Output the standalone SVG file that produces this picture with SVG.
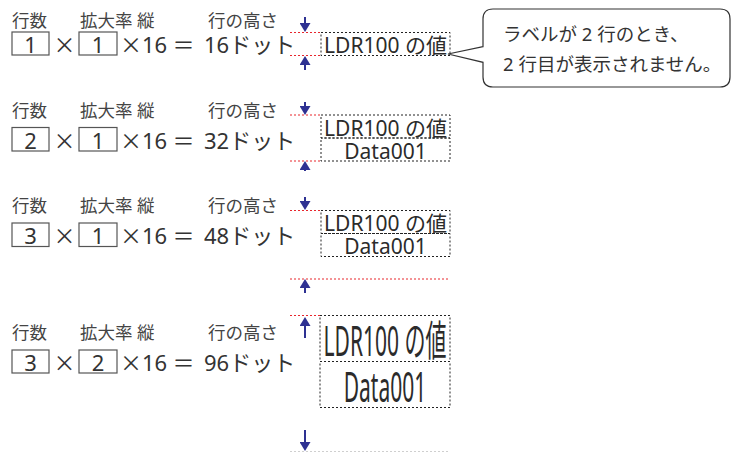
<svg xmlns="http://www.w3.org/2000/svg" width="732" height="452" viewBox="0 0 732 452">
<defs>
<style>
.lbl{font-family:"Noto Sans","Noto Sans CJK JP",sans-serif;font-size:17.5px;fill:#444}
.eq{font-family:"Noto Sans","Noto Sans CJK JP",sans-serif;font-size:22px;fill:#333}
.num{font-family:"Noto Sans","Noto Sans CJK JP",sans-serif;font-size:22px;fill:#333;text-anchor:middle}
.x{font-family:"Noto Sans CJK JP",sans-serif;font-size:22px;fill:#333}
.val{font-family:"Noto Sans","Noto Sans CJK JP",sans-serif;font-size:21px;fill:#2b2b2b;text-anchor:middle}
.nbox{fill:none;stroke:#555;stroke-width:1.2}
.tbox{fill:none;stroke:#222;stroke-width:1;stroke-dasharray:2 2}
.red{fill:none;stroke:#e8262d;stroke-width:1;stroke-dasharray:2 2}
.grey{fill:none;stroke:#cfcfcf;stroke-width:1;stroke-dasharray:2 2}
.arr{stroke:#2e3192;stroke-width:2;fill:none;marker-end:url(#ah)}
.co{font-family:"Noto Sans","Noto Sans CJK JP",sans-serif;font-size:18.5px;fill:#333}
</style>
<marker id="ah" viewBox="0 0 9 11" markerWidth="9" markerHeight="11" refX="4" refY="5.5" orient="auto" markerUnits="userSpaceOnUse">
<path d="M0,0 L9,5.5 L0,11 z" fill="#2e3192"/>
</marker>
</defs>

<g id="sec1">
<text class="lbl" x="12" y="27">行数</text>
<text class="lbl" x="80" y="27">拡大率 縦</text>
<text class="lbl" x="208" y="27">行の高さ</text>
<rect class="nbox" x="12" y="32" width="37" height="23"/>
<text class="num" x="30.5" y="52.5">1</text>
<text class="x" x="64.5" y="52.5" text-anchor="middle">×</text>
<rect class="nbox" x="79" y="32" width="38" height="23"/>
<text class="num" x="98" y="52.5">1</text>
<text class="eq" x="120" y="52.5"><tspan class="x">×</tspan>16</text>
<text class="num" x="183.5" y="52.5">＝</text>
<text class="eq" x="204" y="52.5">16ドット</text>
<line class="red" x1="290" y1="32.5" x2="321" y2="32.5"/>
<line class="red" x1="290" y1="55.5" x2="321" y2="55.5"/>
<rect class="tbox" x="321" y="32.5" width="129" height="23"/>
<text class="val" x="385.5" y="53">LDR100 の値</text>
</g>

<g id="sec2">
<text class="lbl" x="12" y="117">行数</text>
<text class="lbl" x="80" y="117">拡大率 縦</text>
<text class="lbl" x="208" y="117">行の高さ</text>
<rect class="nbox" x="12" y="127.5" width="37" height="23.5"/>
<text class="num" x="30.5" y="148.5">2</text>
<text class="x" x="64.5" y="148.5" text-anchor="middle">×</text>
<rect class="nbox" x="79" y="127.5" width="38" height="23.5"/>
<text class="num" x="98" y="148.5">1</text>
<text class="eq" x="120" y="148.5"><tspan class="x">×</tspan>16</text>
<text class="num" x="183.5" y="148.5">＝</text>
<text class="eq" x="204" y="148.5">32ドット</text>
<line class="red" x1="290" y1="115" x2="321" y2="115"/>
<line class="red" x1="290" y1="161" x2="321" y2="161"/>
<rect class="tbox" x="321" y="115" width="129" height="23"/>
<rect class="tbox" x="321" y="138" width="129" height="23"/>
<text class="val" x="385.5" y="135.5">LDR100 の値</text>
<text class="val" x="385.5" y="158.5">Data001</text>
</g>

<g id="sec3">
<text class="lbl" x="12" y="212">行数</text>
<text class="lbl" x="80" y="212">拡大率 縦</text>
<text class="lbl" x="208" y="212">行の高さ</text>
<rect class="nbox" x="12" y="223" width="37" height="23.5"/>
<text class="num" x="30.5" y="244">3</text>
<text class="x" x="64.5" y="244" text-anchor="middle">×</text>
<rect class="nbox" x="79" y="223" width="38" height="23.5"/>
<text class="num" x="98" y="244">1</text>
<text class="eq" x="120" y="244"><tspan class="x">×</tspan>16</text>
<text class="num" x="183.5" y="244">＝</text>
<text class="eq" x="204" y="244">48ドット</text>
<line class="red" x1="290" y1="210.5" x2="321" y2="210.5"/>
<line class="red" x1="290" y1="279" x2="450" y2="279"/>
<rect class="tbox" x="321" y="210.5" width="129" height="23"/>
<rect class="tbox" x="321" y="233.5" width="129" height="23"/>
<text class="val" x="385.5" y="231">LDR100 の値</text>
<text class="val" x="385.5" y="254">Data001</text>
</g>

<g id="sec4">
<text class="lbl" x="12" y="339">行数</text>
<text class="lbl" x="80" y="339">拡大率 縦</text>
<text class="lbl" x="208" y="339">行の高さ</text>
<rect class="nbox" x="12" y="350" width="37" height="23"/>
<text class="num" x="30.5" y="370.5">3</text>
<text class="x" x="64.5" y="370.5" text-anchor="middle">×</text>
<rect class="nbox" x="79" y="350" width="38" height="23"/>
<text class="num" x="98" y="370.5">2</text>
<text class="eq" x="120" y="370.5"><tspan class="x">×</tspan>16</text>
<text class="num" x="183.5" y="370.5">＝</text>
<text class="eq" x="204" y="370.5">96ドット</text>
<line class="red" x1="290" y1="315.5" x2="320" y2="315.5"/>
<rect class="tbox" x="320" y="315.5" width="130" height="46"/>
<rect class="tbox" x="320" y="361.5" width="130" height="46"/>
<g transform="scale(1,2)">
<text class="val" x="385" y="178.2">LDR100 の値</text>
<text class="val" x="385" y="201.2">Data001</text>
</g>
<line class="grey" x1="290" y1="451.5" x2="450" y2="451.5"/>
</g>

<g id="callout">
<path d="M483,46.7 L448,54 L483,62.3 L483,77 Q483,87 493,87 L720,87 Q730,87 730,77 L730,19 Q730,9 720,9 L493,9 Q483,9 483,19 Z" fill="#fff" stroke="#333" stroke-width="1.2"/>
<text class="co" x="503" y="40.5">ラベルが 2 行のとき、</text>
<text class="co" x="503" y="70.5">2 行目が表示されません。</text>
</g>

<g id="connectors">
<line class="arr" x1="305" y1="17" x2="305" y2="27"/>
<line class="arr" x1="305" y1="70" x2="305" y2="61"/>
<line class="arr" x1="305" y1="102" x2="305" y2="110"/>
<line class="arr" x1="305" y1="171" x2="305" y2="166"/>
<line class="arr" x1="305" y1="197" x2="305" y2="205"/>
<line class="arr" x1="305" y1="293" x2="305" y2="284"/>
<line class="arr" x1="305" y1="338" x2="305" y2="322"/>
<line class="arr" x1="305" y1="430" x2="305" y2="446"/>
</g>
</svg>
